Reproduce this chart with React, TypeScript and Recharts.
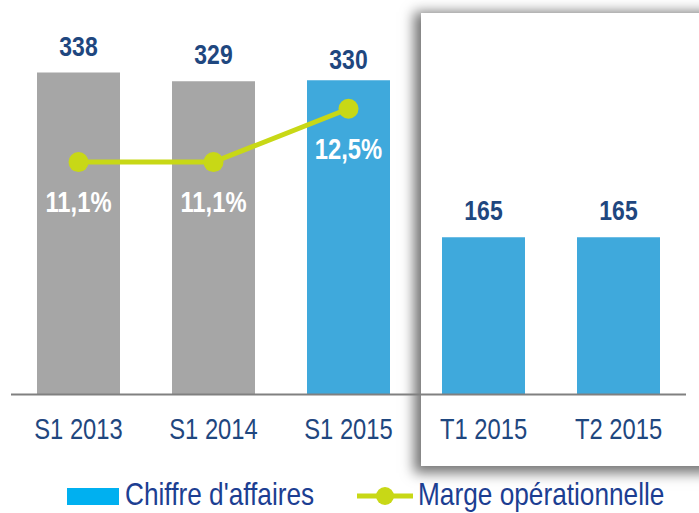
import React from 'react';
import { ComposedChart, Bar, Line, XAxis, YAxis, Cell, LabelList, Legend } from 'recharts';

const periods = ['S1 2013', 'S1 2014', 'S1 2015', 'T1 2015', 'T2 2015'];
const revenue = [338, 329, 330, 165, 165];
const margin = [11.1, 11.1, 12.5, null, null];
const barColors = ['#A6A6A6', '#A6A6A6', '#3FA9DC', '#3FA9DC', '#3FA9DC'];

const data = periods.map((p, i) => ({ period: p, ca: revenue[i], marge: margin[i] }));

const FONT = "'Liberation Sans', Arial, sans-serif";
const NAVY = '#1F477F';
const LIME = '#C8D816';
const NARROW = 0.82;

// narrow text: the condensed face is not installed, so squeeze horizontally
const NText = ({ x, y, children, anchor = 'middle', ...rest }: any) => (
  <text transform={`translate(${x},${y}) scale(${NARROW},1)`} x={0} y={0} textAnchor={anchor} fontFamily={FONT} {...rest}>
    {children}
  </text>
);

const BarValue = (props: any) => {
  const { x, y, width, value, index } = props;
  const gap = index === 2 ? 11 : 17;
  return (
    <NText x={x + width / 2} y={y - gap} fill={NAVY} fontSize={28} fontWeight="bold">
      {value}
    </NText>
  );
};

const PctLabel = (props: any) => {
  const { x, y, value } = props;
  if (value == null) return null;
  return (
    <NText x={x} y={y + 50} fill="#FFFFFF" fontSize={29} fontWeight="bold">
      {String(value).replace('.', ',')}%
    </NText>
  );
};

const Tick = (props: any) => {
  const { x, y, payload } = props;
  return (
    <NText x={x} y={y + 36} fill={NAVY} fontSize={29}>
      {payload.value}
    </NText>
  );
};

const LegendContent = () => (
  <svg width={699} height={36} style={{ display: 'block', overflow: 'visible' }}>
    <rect x={67} y={11} width={52} height={17} fill="#00B0F0" />
    <NText x={125} y={28} anchor="start" fill="#1C3E92" fontSize={32}>
      Chiffre d'affaires
    </NText>
    <line x1={357} y1={19} x2={413} y2={19} stroke={LIME} strokeWidth={5} />
    <circle cx={385} cy={19} r={9} fill={LIME} />
    <NText x={418} y={28} anchor="start" fill="#1C3E92" fontSize={32}>
      Marge opérationnelle
    </NText>
  </svg>
);

export default function App() {
  return (
    <div style={{ position: 'fixed', left: 0, top: 0, width: 699, height: 513, background: '#fff' }}>
      <div
        style={{
          position: 'absolute',
          left: 421,
          top: 13,
          width: 300,
          height: 453,
          background: '#fff',
          boxShadow: '-3px 3px 12px 4px rgba(0,0,0,0.55)',
        }}
      />
      <div style={{ position: 'absolute', left: 0, top: 0 }}>
        <ComposedChart width={699} height={513} data={data} margin={{ top: 13.5, right: 13, bottom: 0, left: 11 }}>
          <XAxis
            dataKey="period"
            axisLine={{ stroke: '#808080', strokeWidth: 2 }}
            tickLine={false}
            tick={<Tick />}
            height={82.5}
            interval={0}
          />
          <YAxis yAxisId="ca" domain={[0, 400]} hide />
          <YAxis yAxisId="pct" orientation="right" domain={[5, 15]} hide />
          <Legend verticalAlign="bottom" content={<LegendContent />} wrapperStyle={{ left: 0, width: 699, height: 36 }} />
          <Bar yAxisId="ca" dataKey="ca" barSize={83} isAnimationActive={false}>
            {data.map((d, i) => (
              <Cell key={d.period} fill={barColors[i]} />
            ))}
            <LabelList dataKey="ca" content={<BarValue />} />
          </Bar>
          <Line
            yAxisId="pct"
            dataKey="marge"
            stroke={LIME}
            strokeWidth={5}
            dot={{ r: 10, fill: LIME, stroke: LIME, strokeWidth: 0 }}
            activeDot={false}
            isAnimationActive={false}
          >
            <LabelList dataKey="marge" content={<PctLabel />} />
          </Line>
        </ComposedChart>
      </div>
    </div>
  );
}
